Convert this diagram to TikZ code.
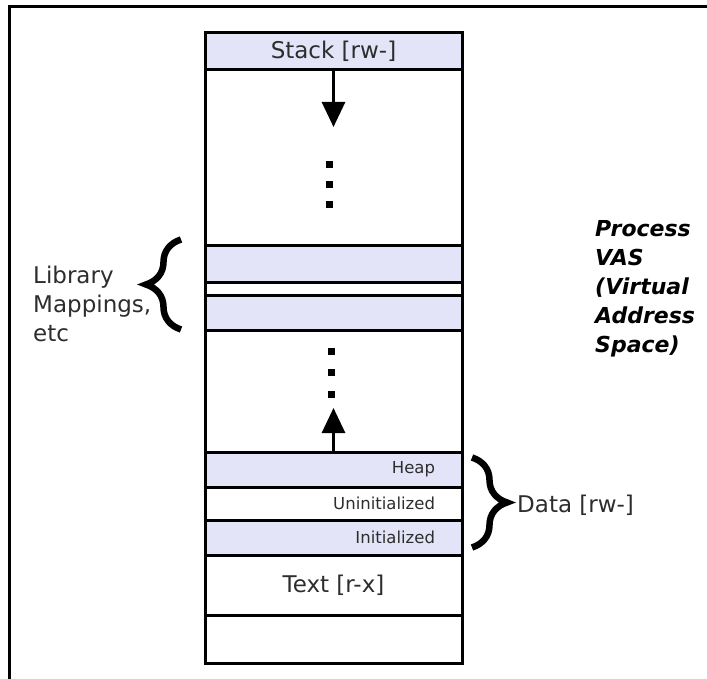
\documentclass[tikz,border=0pt]{standalone}
\usepackage{fontspec}
\setmainfont{DejaVu Sans}
\usepackage{tikz}
\usetikzlibrary{positioning,arrows.meta,decorations.pathreplacing}
\definecolor{segfill}{RGB}{228,228,248}
\definecolor{inktext}{RGB}{45,45,45}

\begin{document}
\begin{tikzpicture}[x=1pt,y=-1pt,
    every node/.style={text=inktext},
    grow arrow/.style={line width=3pt,-{Triangle[width=23pt,length=25pt]}}]
    \tikzstyle{segment}=[draw,line width=3pt,minimum width=257pt,inner sep=0pt,outer sep=0pt,font=\fontsize{23}{27}\selectfont]
    \tikzstyle{filled segment}=[segment,fill=segfill]
    \tikzstyle{data segment}=[segment,inner xsep=27pt,text width=203pt,align=right,font=\fontsize{16.5}{19}\selectfont]
    \tikzstyle{side text}=[inner sep=0pt,align=left,font=\fontsize{23}{29}\selectfont]
    \tikzstyle{side brace}=[decorate,decoration={brace,amplitude=35pt},line width=6.5pt]

    \useasboundingbox (0,0) rectangle (707,679);
    \draw[line width=3pt] (9,679) -- (9,7) -- (707,7);

    % the address space, top to bottom
    \node(stack)[filled segment,minimum height=37pt,anchor=north] at (333.5,33) {Stack [rw-]};
    \node(free1)[segment,minimum height=176pt,below=0pt of stack]{};
    \node(lib1)[filled segment,minimum height=36pt,below=0pt of free1]{};
    \node(libgap)[segment,minimum height=13pt,below=0pt of lib1]{};
    \node(lib2)[filled segment,minimum height=35pt,below=0pt of libgap]{};
    \node(free2)[segment,minimum height=122pt,below=0pt of lib2]{};
    \node(heap)[data segment,fill=segfill,minimum height=35pt,below=0pt of free2]{Heap};
    \node(bss)[data segment,minimum height=33pt,below=0pt of heap]{Uninitialized};
    \node(init)[data segment,fill=segfill,minimum height=35pt,below=0pt of bss]{Initialized};
    \node(text)[segment,minimum height=60pt,below=0pt of init]{Text [r-x]};
    \node(bottom)[segment,minimum height=48pt,below=0pt of text]{};

    % growth of stack and heap
    \coordinate (stacktip) at (333.5,127);
    \draw[grow arrow] (stack.south) -- (stacktip);
    \coordinate (heaptip) at (333.5,408);
    \draw[grow arrow] (heap.north) -- (heaptip);
    \foreach \y in {165,185,205}
        \fill (329,\y) +(-3.5,-3.5) rectangle +(3.5,3.5);
    \foreach \y in {351,372,394}
        \fill (331,\y) +(-3.5,-3.5) rectangle +(3.5,3.5);

    \draw[side brace] (181,329.5) -- (181,239.5);
    \draw[side brace] (472,457.5) -- (472,547.5);

    % base anchor sits on the last line
    \node(libtext)[side text,anchor=base west] at (33,341) {Library\\Mappings,\\etc};
    \node(datatext)[side text,anchor=base west] at (517,512) {Data [rw-]};
    \node(vastext)[side text,font=\fontsize{22}{29}\selectfont\bfseries\itshape,text=black,anchor=base west] at (595,352) {Process\\VAS\\(Virtual\\Address\\Space)};
\end{tikzpicture}
\end{document}
